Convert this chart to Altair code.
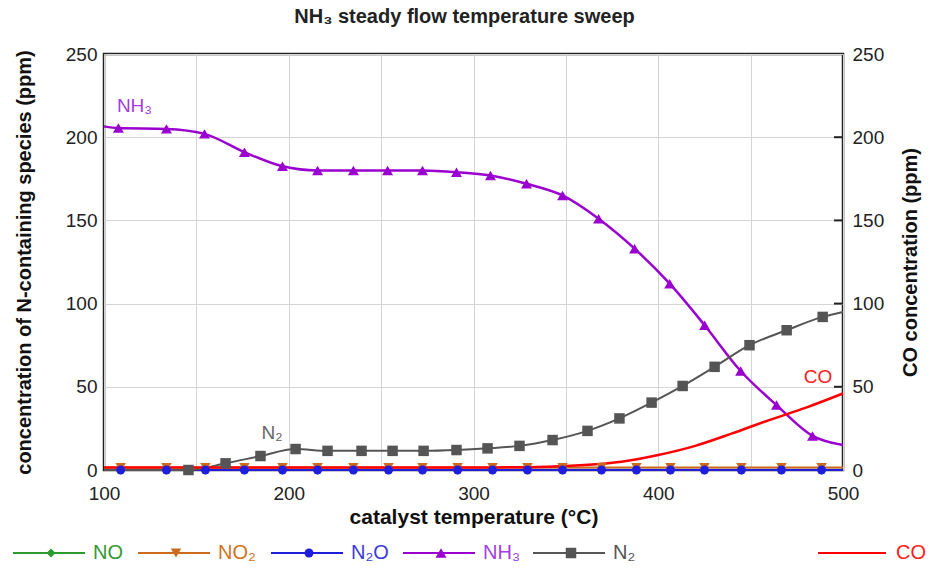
import altair as alt
import pandas as pd

# ---------------- data ----------------
# NH3 markers
nh3_marker_t = [107.8, 133.8, 154.4, 176.0, 196.6, 215.6, 235.0, 253.5, 272.4, 290.8,
                309.2, 328.7, 348.2, 367.7, 387.2, 406.2, 425.1, 444.6, 464.0, 483.5]
nh3_marker_v = [205.5, 205.0, 202.0, 191.0, 182.5, 180.0, 180.0, 180.0, 180.0, 179.0,
                177.0, 172.0, 165.0, 151.0, 133.0, 112.0, 87.0, 59.5, 39.0, 20.5]
nh3_ends_t = [100, 500]
nh3_ends_v = [206.5, 15.0]

# N2 markers
n2_marker_t = [145.7, 165.8, 184.7, 203.7, 221.0, 239.4, 256.2, 273.0, 290.8, 307.6,
               324.9, 342.8, 361.7, 379.0, 396.4, 413.2, 430.5, 449.4, 469.5, 489.0]
n2_marker_v = [0.0, 4.0, 8.4, 12.6, 11.5, 11.5, 11.5, 11.5, 12.0, 13.0,
               14.5, 18.0, 23.5, 31.0, 40.5, 50.5, 62.0, 75.0, 84.0, 92.0]
n2_ends_t = [100, 500]
n2_ends_v = [0.0, 95.0]

# NO, NO2, N2O markers (shared temperatures)
nox_marker_t = [109.0, 133.8, 154.9, 176.0, 196.6, 215.6, 235.0, 254.0, 272.4, 291.4,
                310.3, 329.2, 348.2, 369.3, 388.2, 406.6, 425.0, 445.0, 466.7, 488.4]
no_marker_v = [0.0, 0.0, 0.0, 0.0, 0.0, 0.0, 0.0, 0.0, 0.0, 0.0,
               0.0, 0.0, 0.0, 0.0, 0.0, 0.0, 0.0, 0.0, 0.0, 0.0]
no2_marker_v = [1.5, 1.5, 1.5, 1.5, 1.5, 1.5, 1.5, 1.5, 1.5, 1.5,
                1.5, 1.5, 1.5, 1.5, 1.5, 1.5, 1.5, 1.5, 1.5, 1.5]
n2o_marker_v = [0.0, 0.0, 0.0, 0.0, 0.0, 0.0, 0.0, 0.0, 0.0, 0.0,
                0.0, 0.0, 0.0, 0.0, 0.0, 0.0, 0.0, 0.0, 0.0, 0.0]
nox_ends_t = [100, 500]

# CO (right axis)
co_t = [100, 150, 200, 250, 300, 340, 360, 380, 400, 420, 440, 460, 480, 500]
co_v = [1.5, 1.5, 1.5, 1.5, 1.5, 2.0, 3.0, 5.0, 9.0, 14.5, 22.0, 30.0, 37.5, 46.0]

series_names = ["NO", "NO₂", "N₂O", "NH₃", "N₂"]
series_colors = ["#2E9A2E", "#CC6A1E", "#1E1EDC", "#9A00D0", "#555555"]
label_colors = ["#339933", "#D2731E", "#3A3ADC", "#A43CE0", "#555555"]
series_shapes = ["diamond", "triangle-down", "circle", "triangle-up", "square"]
series_sizes = [80, 110, 80, 120, 110]
co_color = "#FF0000"

x_ticks = [100, 150, 200, 250, 300, 350, 400, 450, 500]
y_ticks = [0, 50, 100, 150, 200, 250]

# ---------------- build ----------------
W, H = 739, 416
FONT = "Liberation Sans, Arial, sans-serif"

marker_sets = [
    (nox_marker_t, no_marker_v, nox_ends_t, [no_marker_v[0], no_marker_v[-1]]),
    (nox_marker_t, no2_marker_v, nox_ends_t, [no2_marker_v[0], no2_marker_v[-1]]),
    (nox_marker_t, n2o_marker_v, nox_ends_t, [n2o_marker_v[0], n2o_marker_v[-1]]),
    (nh3_marker_t, nh3_marker_v, nh3_ends_t, nh3_ends_v),
    (n2_marker_t, n2_marker_v, n2_ends_t, n2_ends_v),
]

xenc = alt.X("t:Q", scale=alt.Scale(domain=[100, 500], nice=False, zero=False),
             axis=alt.Axis(values=x_ticks, title="catalyst temperature (°C)",
                           labelExpr="datum.value % 100 == 0 ? datum.label : ''",
                           grid=True, ticks=False, domain=False, labelFlush=False,
                           labelPadding=14, titlePadding=3, titleFontSize=21))
yscale = alt.Scale(domain=[0, 250], nice=False, zero=False)


def yenc(axis=None):
    if axis is None:
        return alt.Y("v:Q", scale=yscale, axis=None)
    return alt.Y("v:Q", scale=yscale, axis=axis)


left_axis = alt.Axis(values=y_ticks, title="concentration of N-containing species (ppm)",
                     grid=True, ticks=False, domain=False, labelFlush=False,
                     labelPadding=7, titlePadding=31)
right_axis = alt.Axis(values=y_ticks, title="CO concentration (ppm)", orient="right",
                      grid=False, ticks=False, domain=False, labelFlush=False,
                      labelPadding=9, titlePadding=17, titleAngle=270, titleBaseline="top")

layers = []
# lines of the N species
first = True
for (mt, mv, et, ev), name, col in zip(marker_sets, series_names, series_colors):
    lt = [et[0]] + list(mt) + [et[1]]
    lv = [ev[0]] + list(mv) + [ev[1]]
    d = pd.DataFrame({"t": lt, "v": lv})
    sw = 2.5 if name == "NH₃" else 2
    ch = alt.Chart(d).mark_line(color=col, strokeWidth=sw, interpolate="monotone").encode(
        x=xenc, y=yenc(left_axis if first else None))
    first = False
    layers.append(ch)

# CO line on right axis
co_df = pd.DataFrame({"t": co_t, "v": co_v})
layers.append(alt.Chart(co_df).mark_line(color=co_color, strokeWidth=2.5,
                                         interpolate="monotone").encode(
    x=xenc, y=yenc(right_axis)))

# markers
for (mt, mv, et, ev), name, col, shp, sz in zip(marker_sets, series_names, series_colors,
                                               series_shapes, series_sizes):
    d = pd.DataFrame({"t": mt, "v": mv})
    layers.append(alt.Chart(d).mark_point(shape=shp, filled=True, opacity=1, color=col,
                                          size=sz).encode(x=xenc, y=yenc()))

# right-axis inward ticks
tick_df = pd.DataFrame({"v": [50, 100, 150, 200]})
layers.append(alt.Chart(tick_df).mark_rule(color="#222", strokeWidth=2).encode(
    x=alt.value(W - 9), x2=alt.value(W), y=yenc()))

# inline labels
ann_df = pd.DataFrame({"t": [116.5, 191.0, 486.5], "v": [219.0, 22.5, 56.0],
                       "lab": ["NH₃", "N₂", "CO"]})
ann_cols = ["#A43CE0", "#666666", "#FF2020"]
for i in range(3):
    layers.append(alt.Chart(ann_df.iloc[[i]]).mark_text(
        font=FONT, fontSize=19, color=ann_cols[i], align="center", baseline="middle").encode(
        x=xenc, y=yenc(), text="lab:N"))

# manual legend (bottom)
one = pd.DataFrame({"a": [0]})
LEG_Y = 499
line_x0 = [13, 138, 271, 403, 533]
for i, (name, col, lcol, shp, sz) in enumerate(zip(series_names, series_colors, label_colors,
                                                   series_shapes, series_sizes)):
    x0 = line_x0[i] - 104
    layers.append(alt.Chart(one).mark_rule(color=col, strokeWidth=2).encode(
        x=alt.value(x0), x2=alt.value(x0 + 72), y=alt.value(LEG_Y)))
    layers.append(alt.Chart(one).mark_point(shape=shp, filled=True, opacity=1, color=col,
                                            size=sz).encode(
        x=alt.value(x0 + 38), y=alt.value(LEG_Y)))
    layers.append(alt.Chart(one).mark_text(text=name, font=FONT, fontSize=20, color=lcol,
                                           align="left", baseline="middle").encode(
        x=alt.value(x0 + 80), y=alt.value(LEG_Y)))
layers.append(alt.Chart(one).mark_rule(color=co_color, strokeWidth=2).encode(
    x=alt.value(818 - 104), x2=alt.value(886 - 104), y=alt.value(LEG_Y)))
layers.append(alt.Chart(one).mark_text(text="CO", font=FONT, fontSize=20, color="#FF2020",
                                       align="left", baseline="middle").encode(
    x=alt.value(896 - 104), y=alt.value(LEG_Y)))

chart = alt.layer(*layers).resolve_scale(y="independent").properties(
    width=W, height=H,
    autosize=alt.AutoSizeParams(type="none"),
    padding={"left": 104, "top": 54, "right": 102, "bottom": 103},
    title=alt.TitleParams("NH₃ steady flow temperature sweep", fontSize=20,
                          font="Liberation Sans Narrow, Liberation Sans, Arial, sans-serif",
                          fontWeight="bold", color="#222", anchor="middle", offset=18, dx=-9),
).configure_view(stroke="#222", strokeWidth=2.5).configure_axis(
    labelFont=FONT, labelFontSize=19, labelColor="#222",
    titleFont=FONT, titleFontSize=20, titleFontWeight="bold", titleColor="#111",
    gridColor="#d4d4d4", gridWidth=1,
)

chart.save("out.html", embed_options={"renderer": "svg", "actions": False})
